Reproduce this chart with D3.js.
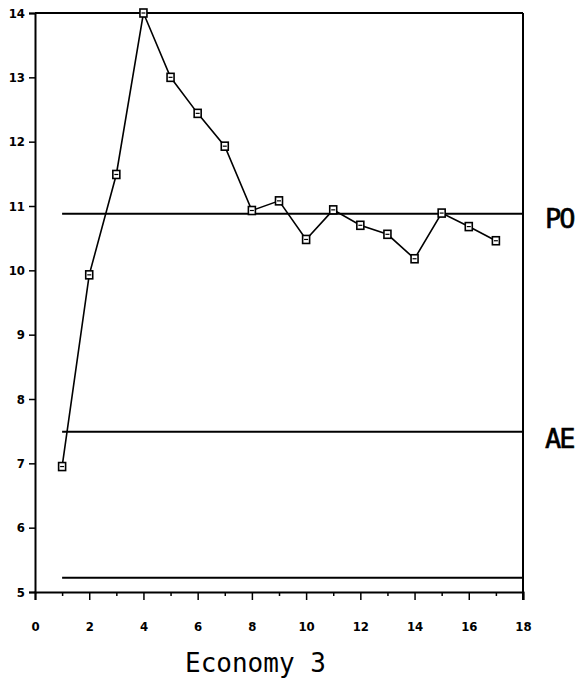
<!DOCTYPE html>
<html>
<head>
<meta charset="utf-8">
<script src="https://cdn.jsdelivr.net/npm/d3@7"></script>
<style>
  html, body { margin: 0; padding: 0; background: #fff; }
  svg { display: block; }
</style>
</head>
<body>
<svg id="chart" width="581" height="685"></svg>
<script>
// Period-by-period price path for Economy 3
const periods = [1, 2, 3, 4, 5, 6, 7, 8, 9, 10, 11, 12, 13, 14, 15, 16, 17];
const prices = [6.95, 9.93, 11.49, 14.0, 13.0, 12.44, 11.93, 10.93, 11.08, 10.48, 10.94, 10.70, 10.56, 10.18, 10.89, 10.68, 10.46];

// Benchmark levels drawn as horizontal lines
const refNames = ["PO", "AE", ""];
const refValues = [10.88, 7.49, 5.22];
const refStart = 1;

const xTicks = [0, 2, 4, 6, 8, 10, 12, 14, 16, 18];
const xMinorTicks = [1, 3, 5, 7, 9, 11, 13, 15, 17];
const yTicks = [5, 6, 7, 8, 9, 10, 11, 12, 13, 14];
const title = "Economy 3";

const svg = d3.select("#chart");
const x = d3.scaleLinear().domain([0, 18]).range([35, 523]);
const y = d3.scaleLinear().domain([5, 14]).range([592, 13]);

const ink = "#000";
const tickFont = "'DejaVu Sans Condensed', 'DejaVu Sans', sans-serif";

// Frame: top and right edges
svg.append("line").attr("x1", x(0)).attr("x2", x(18)).attr("y1", y(14)).attr("y2", y(14))
  .attr("stroke", ink).attr("stroke-width", 2);
svg.append("line").attr("x1", x(18)).attr("x2", x(18)).attr("y1", y(14)).attr("y2", y(5) + 8)
  .attr("stroke", ink).attr("stroke-width", 2);

// Left axis
const yAxis = d3.axisLeft(y).tickValues(yTicks).tickSize(6).tickPadding(4).tickFormat(d3.format("d"));
const gy = svg.append("g").attr("transform", `translate(${x(0)},0)`).call(yAxis);
gy.select(".domain").attr("stroke", ink).attr("stroke-width", 2);
gy.selectAll(".tick line").attr("stroke", ink).attr("stroke-width", 1.5);
gy.selectAll(".tick text")
  .attr("font-family", tickFont)
  .attr("font-weight", "bold").attr("font-size", 13).attr("fill", ink);

// Bottom axis: major ticks at even periods, minor at odd
const xAxis = d3.axisBottom(x).tickValues(xTicks).tickSize(8).tickPadding(22).tickFormat(d3.format("d"));
const gx = svg.append("g").attr("transform", `translate(0,${y(5)})`).call(xAxis);
gx.select(".domain").attr("stroke", ink).attr("stroke-width", 2);
gx.selectAll(".tick line").attr("stroke", ink).attr("stroke-width", 1.5);
gx.selectAll(".tick text")
  .attr("font-family", tickFont)
  .attr("font-weight", "bold").attr("font-size", 13).attr("fill", ink);

const xMinor = d3.axisBottom(x).tickValues(xMinorTicks).tickSize(4).tickFormat("");
const gxm = svg.append("g").attr("transform", `translate(0,${y(5)})`).call(xMinor);
gxm.select(".domain").remove();
gxm.selectAll(".tick line").attr("stroke", ink).attr("stroke-width", 1.5);

// Benchmark lines
const labelDrop = [14, 16, 0];
refValues.forEach((v, i) => {
  svg.append("line")
    .attr("x1", x(refStart)).attr("x2", x(18))
    .attr("y1", y(v)).attr("y2", y(v))
    .attr("stroke", ink).attr("stroke-width", 2);
  if (refNames[i]) {
    svg.append("text")
      .attr("x", 545).attr("y", y(v) + labelDrop[i])
      .attr("font-family", "'DejaVu Sans Mono', monospace")
      .attr("font-size", 27)
      .attr("letter-spacing", -2)
      .attr("fill", ink)
      .attr("stroke", ink).attr("stroke-width", 0.6)
      .text(refNames[i]);
  }
});

// Price series
const pts = periods.map((p, i) => [p, prices[i]]);
svg.append("path")
  .datum(pts)
  .attr("fill", "none").attr("stroke", ink).attr("stroke-width", 1.6)
  .attr("d", d3.line().x(d => x(d[0])).y(d => y(d[1])));

// Square markers
const mk = svg.append("g").selectAll("g").data(pts).join("g")
  .attr("transform", d => `translate(${x(d[0])},${y(d[1])})`);
mk.append("rect").attr("x", -3.5).attr("y", -4).attr("width", 7).attr("height", 8)
  .attr("fill", "#fff").attr("stroke", ink).attr("stroke-width", 1.6);
mk.append("line").attr("x1", -2).attr("x2", 2).attr("y1", 0).attr("y2", 0)
  .attr("stroke", ink).attr("stroke-width", 1.2);

// Caption
svg.append("text")
  .attr("x", 185).attr("y", 672)
  .attr("font-family", "'DejaVu Sans Mono', monospace")
  .attr("font-size", 26)
  .attr("fill", ink)
  .text(title);
</script>
</body>
</html>
